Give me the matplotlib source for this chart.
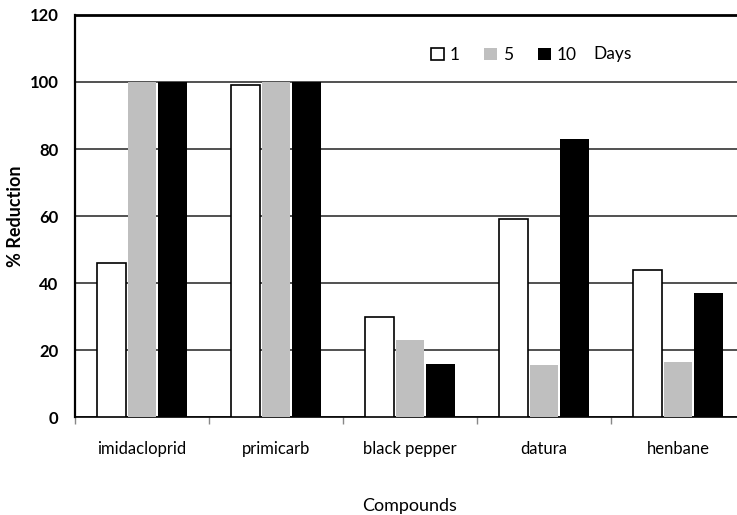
import numpy as np
import matplotlib
matplotlib.use("Agg")
import matplotlib.pyplot as plt

plt.rcParams['font.family'] = ['Lato', 'DejaVu Sans']

compounds = ["imidacloprid", "primicarb", "black pepper", "datura", "henbane"]
days = ["1", "5", "10"]
day1 = [46, 99, 30, 59, 44]
day5 = [100, 100, 23, 15.5, 16.5]
day10 = [100, 100, 16, 83, 37]
yticks = [0, 20, 40, 60, 80, 100, 120]

fig = plt.figure(figsize=(7.37, 5.15), dpi=100)
ax = fig.add_axes([0.1018, 0.190, 0.909, 0.781])

x = np.arange(len(compounds))
w = 0.215
off = 0.23
ax.bar(x - off, day1, w, facecolor='white', edgecolor='black', linewidth=1.2, label=days[0], zorder=3)
ax.bar(x, day5, w, color='#bfbfbf', label=days[1], zorder=3)
ax.bar(x + off, day10, w, color='black', label=days[2], zorder=3)

ax.set_xlim(-0.5, len(compounds) - 0.5)
ax.set_ylim(0, 120)
ax.set_yticks(yticks)
ax.yaxis.grid(True, color='#222222', linewidth=1.1, zorder=0)
ax.set_axisbelow(True)

# ticks between categories, labels at centres
ax.set_xticks(x)
ax.set_xticklabels(compounds, fontsize=12)
ax.set_xticks(np.arange(len(compounds) + 1) - 0.5, minor=True)
ax.tick_params(axis='x', which='major', length=0, pad=17)
ax.tick_params(axis='x', which='minor', length=5, color='#888888', width=1)
ax.tick_params(axis='y', length=0, pad=12)
for lab in ax.get_yticklabels():
    lab.set_fontweight('bold')
    lab.set_fontsize(12)

ax.spines['right'].set_visible(False)
ax.spines['top'].set_linewidth(2)
ax.spines['left'].set_linewidth(1.6)
ax.spines['bottom'].set_linewidth(1.2)

ax.set_ylabel("% Reduction", fontsize=13, fontweight='bold', labelpad=4)
ax.set_xlabel("Compounds", fontsize=13, labelpad=30)

leg = ax.legend(ncol=3, frameon=False, loc='center left', bbox_to_anchor=(0.508, 0.9),
                handlelength=0.75, handleheight=0.75, handletextpad=0.35,
                columnspacing=1.4, fontsize=12.5)
ax.text(3.37, 108.2, "Days", fontsize=12.5, va='center', ha='left')

fig.savefig("out.png", dpi=100)
